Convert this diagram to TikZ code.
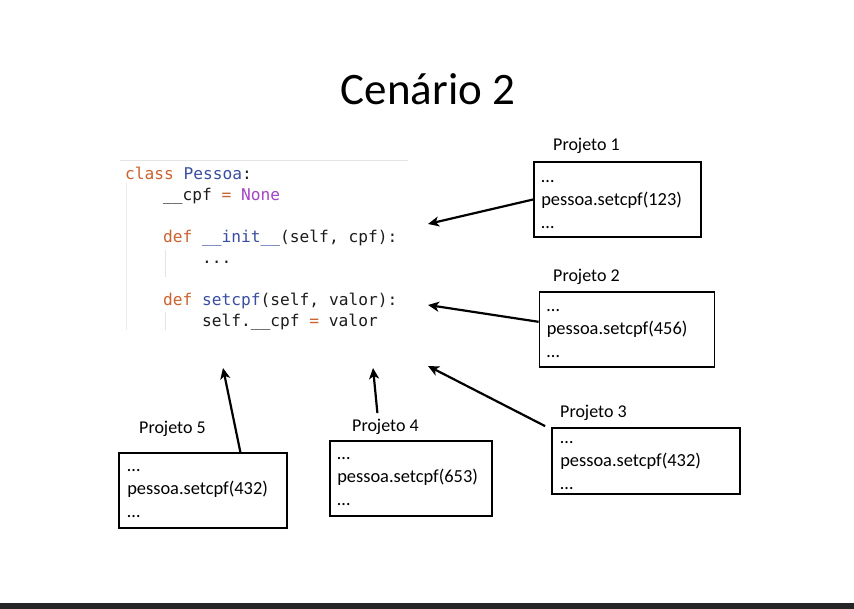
\documentclass[tikz,border=0pt]{standalone}
\usepackage{fontspec}
\setmainfont{Carlito}
\newfontfamily\codefont{DejaVu Sans Mono}
\usetikzlibrary{arrows.meta,calc}

\definecolor{kwcol}{RGB}{204,98,48}
\definecolor{namecol}{RGB}{58,78,160}
\definecolor{constcol}{RGB}{163,68,196}
\definecolor{codetext}{RGB}{28,28,28}
\definecolor{guide}{RGB}{228,228,228}
\definecolor{barcol}{RGB}{37,37,40}

\newcommand{\kw}[1]{\textcolor{kwcol}{#1}}
\newcommand{\nm}[1]{\textcolor{namecol}{#1}}
\newcommand{\cst}[1]{\textcolor{constcol}{#1}}

\tikzset{
  codeline/.style={anchor=base west, inner sep=0pt, text=codetext,
    font=\codefont\fontsize{16.2}{18}\selectfont},
  projlabel/.style={anchor=west, inner sep=0pt,
    font=\fontsize{18}{22}\selectfont},
  pbox/.style={draw, line width=1.8pt, inner sep=0pt},
  ptext/.style={anchor=west, align=left, inner sep=0pt,
    font=\fontsize{18.4}{23}\selectfont},
  arr/.style={line width=2.2pt, -{Stealth[length=11pt,width=10pt,inset=3pt]}},
}

\begin{document}
\begin{tikzpicture}[x=1pt,y=-1pt]
  \useasboundingbox (0,0) rectangle (854,609);
  \fill[white] (0,0) rectangle (854,609);
  \fill[barcol] (0,603) rectangle (854,609);

  % title
  \node[inner sep=0pt, font=\fontsize{45}{54}\selectfont] (title) at (428,89) {Cenário 2};

  % code panel: frame lines and indentation guides
  \draw[guide, line width=1pt] (120,161) -- (408,161);
  \draw[guide!70, line width=0.8pt] (126,183) -- (126,330);
  \draw[guide, line width=0.8pt] (165,250) -- (165,277);
  \draw[guide, line width=0.8pt] (165,312) -- (165,330);

  % code
  \node[codeline] (c1) at (125,180) {\kw{class} \nm{Pessoa}:};
  \node[codeline] (c2) at (163,201) {\_\_cpf \kw{=} \cst{None}};
  \node[codeline] (c3) at (163,243) {\kw{def} \nm{\_\_init\_\_}(self, cpf):};
  \node[codeline] (c4) at (202,264) {...};
  \node[codeline] (c5) at (163,306) {\kw{def} \nm{setcpf}(self, valor):};
  \node[codeline] (c6) at (202,327) {self.\_\_cpf \kw{=} valor};

  % project labels
  \node[projlabel] (lab1) at (553,146) {Projeto 1};
  \node[projlabel] (lab2) at (553,277) {Projeto 2};
  \node[projlabel] (lab3) at (560,413) {Projeto 3};
  \node[projlabel] (lab4) at (352,427) {Projeto 4};
  \node[projlabel] (lab5) at (139,429) {Projeto 5};

  % project boxes
  \node[pbox, minimum width=167pt, minimum height=75pt] (p1) at (617.5,199.5) {};
  \node[pbox, minimum width=175pt, minimum height=75pt] (p2) at (627,329.5) {};
  \node[pbox, minimum width=188pt, minimum height=66pt] (p3) at (646,461) {};
  \node[pbox, minimum width=162pt, minimum height=75pt] (p4) at (411,478.5) {};
  \node[pbox, minimum width=168pt, minimum height=75pt] (p5) at (203,490.5) {};

  % code written in each project
  \node[ptext] (p1t) at ($(p1.west)+(8,5)$) {…\\pessoa.setcpf(123)\\…};
  \node[ptext] (p2t) at ($(p2.west)+(8,4)$) {…\\pessoa.setcpf(456)\\…};
  \node[ptext] (p3t) at ($(p3.west)+(9,5)$) {…\\pessoa.setcpf(432)\\…};
  \node[ptext] (p4t) at ($(p4.west)+(8,3)$) {…\\pessoa.setcpf(653)\\…};
  \node[ptext] (p5t) at ($(p5.west)+(9,3)$) {…\\pessoa.setcpf(432)\\…};

  % arrow targets next to the code
  \coordinate (t1) at (428,224);
  \coordinate (t2) at (428,305);
  \coordinate (t3) at (428,366);
  \coordinate (t4) at (373,368);
  \coordinate (t5) at (223,368);

  % calls from each project into the class
  \draw[arr] (p1.west) -- (t1);
  \draw[arr] ($(p2.north west)!0.4!(p2.south west)$) -- (t2);
  \draw[arr] ($(p3.north west)+(-6,-1)$) -- (t3);
  \draw[arr] ($(lab4.north west)!0.38!(lab4.north east)+(0,-6)$) -- (t4);
  \draw[arr] ($(p5.north west)!0.72!(p5.north east)$) -- (t5);
\end{tikzpicture}
\end{document}
